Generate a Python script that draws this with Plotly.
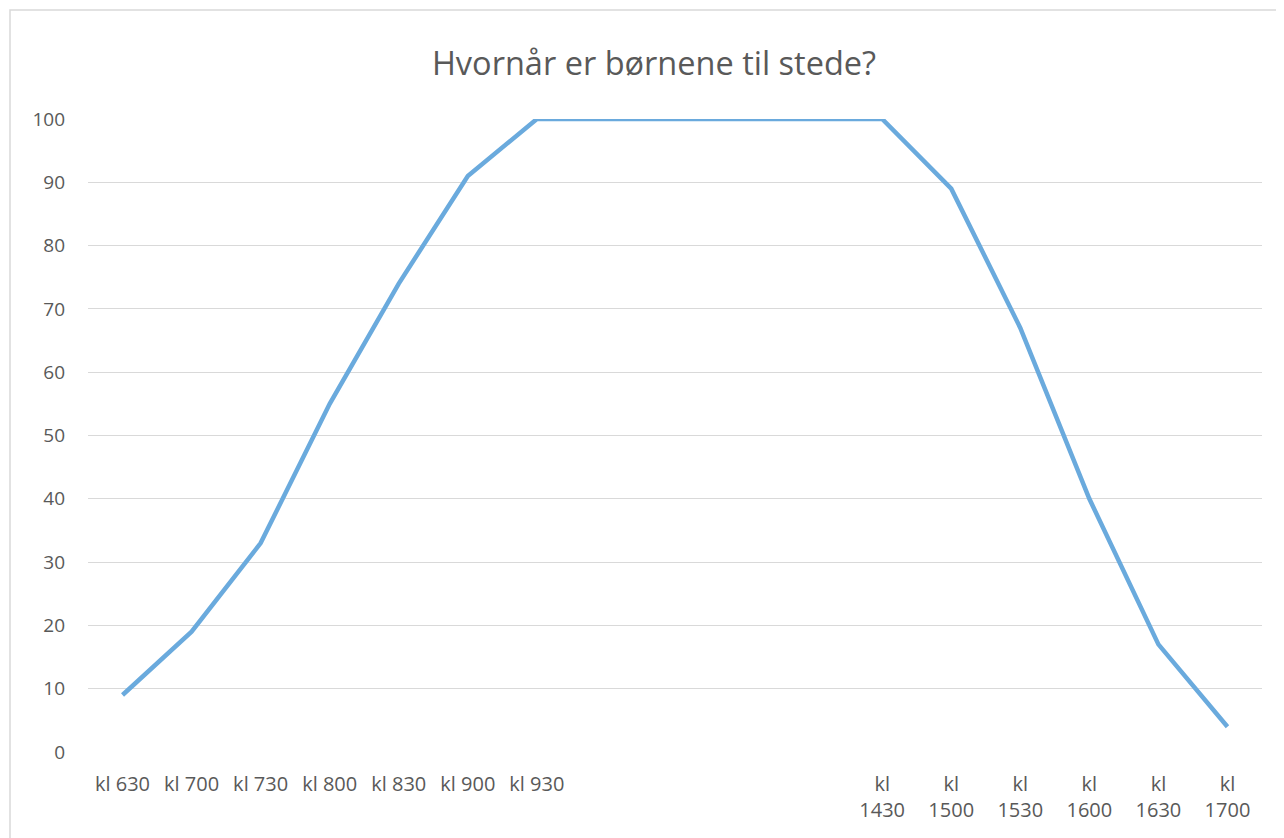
import plotly.graph_objects as go

labels = ["kl 630", "kl 700", "kl 730", "kl 800", "kl 830", "kl 900", "kl 930",
          "", "", "", "",
          "kl<br>1430", "kl<br>1500", "kl<br>1530", "kl<br>1600", "kl<br>1630", "kl<br>1700"]
values = [9, 19, 33, 55, 74, 91, 100,
          100, 100, 100, 100,
          100, 89, 67, 40, 17, 4]
y_ticks = list(range(0, 101, 10))

x = list(range(len(labels)))

fig = go.Figure()
fig.add_trace(go.Scatter(
    x=x, y=values, mode="lines",
    line=dict(color="#6AAADD", width=4.5),
    cliponaxis=False, showlegend=False, hoverinfo="y"))

# page body has an 8px margin; figure sized to fit the window exactly
OFF = 8
W, H = 1284 - OFF, 838 - OFF
ml, mr, mt, mb = 88 - OFF, 22, 119 - OFF, 86
pw, ph = W - ml - mr, H - mt - mb

def px_to_paper_x(p):
    return (p - OFF - ml) / pw

def px_to_paper_y(p):
    return (H - mb - (p - OFF)) / ph

fig.add_shape(type="rect", xref="paper", yref="paper",
              x0=px_to_paper_x(10), x1=px_to_paper_x(1300),
              y0=px_to_paper_y(850), y1=px_to_paper_y(10),
              line=dict(color="#d9d9d9", width=1.5), fillcolor="rgba(0,0,0,0)", layer="below")

fig.update_layout(
    width=W, height=H,
    margin=dict(l=ml, r=mr, t=mt, b=mb),
    paper_bgcolor="white", plot_bgcolor="white",
    title=dict(text="Hvornår er børnene til stede?", x=(654 - OFF) / W, xanchor="center",
               y=1 - (64 - OFF) / H, yanchor="middle",
               font=dict(family="Open Sans", size=32.5, color="#595959")),
    font=dict(family="Open Sans", size=19, color="#595959"),
    xaxis=dict(range=[-0.5, len(labels) - 0.5], tickmode="array", tickvals=x, ticktext=labels,
               showgrid=False, zeroline=False, showline=False, ticks="", ticklabelstandoff=18,
               tickfont=dict(size=20), fixedrange=True),
    yaxis=dict(range=[0, 100], tickmode="array", tickvals=y_ticks,
               showgrid=True, gridcolor="#d9d9d9", gridwidth=1.3, zeroline=False,
               showline=False, ticks="", ticklabelstandoff=22, fixedrange=True),
)

fig.write_html("out.html")
